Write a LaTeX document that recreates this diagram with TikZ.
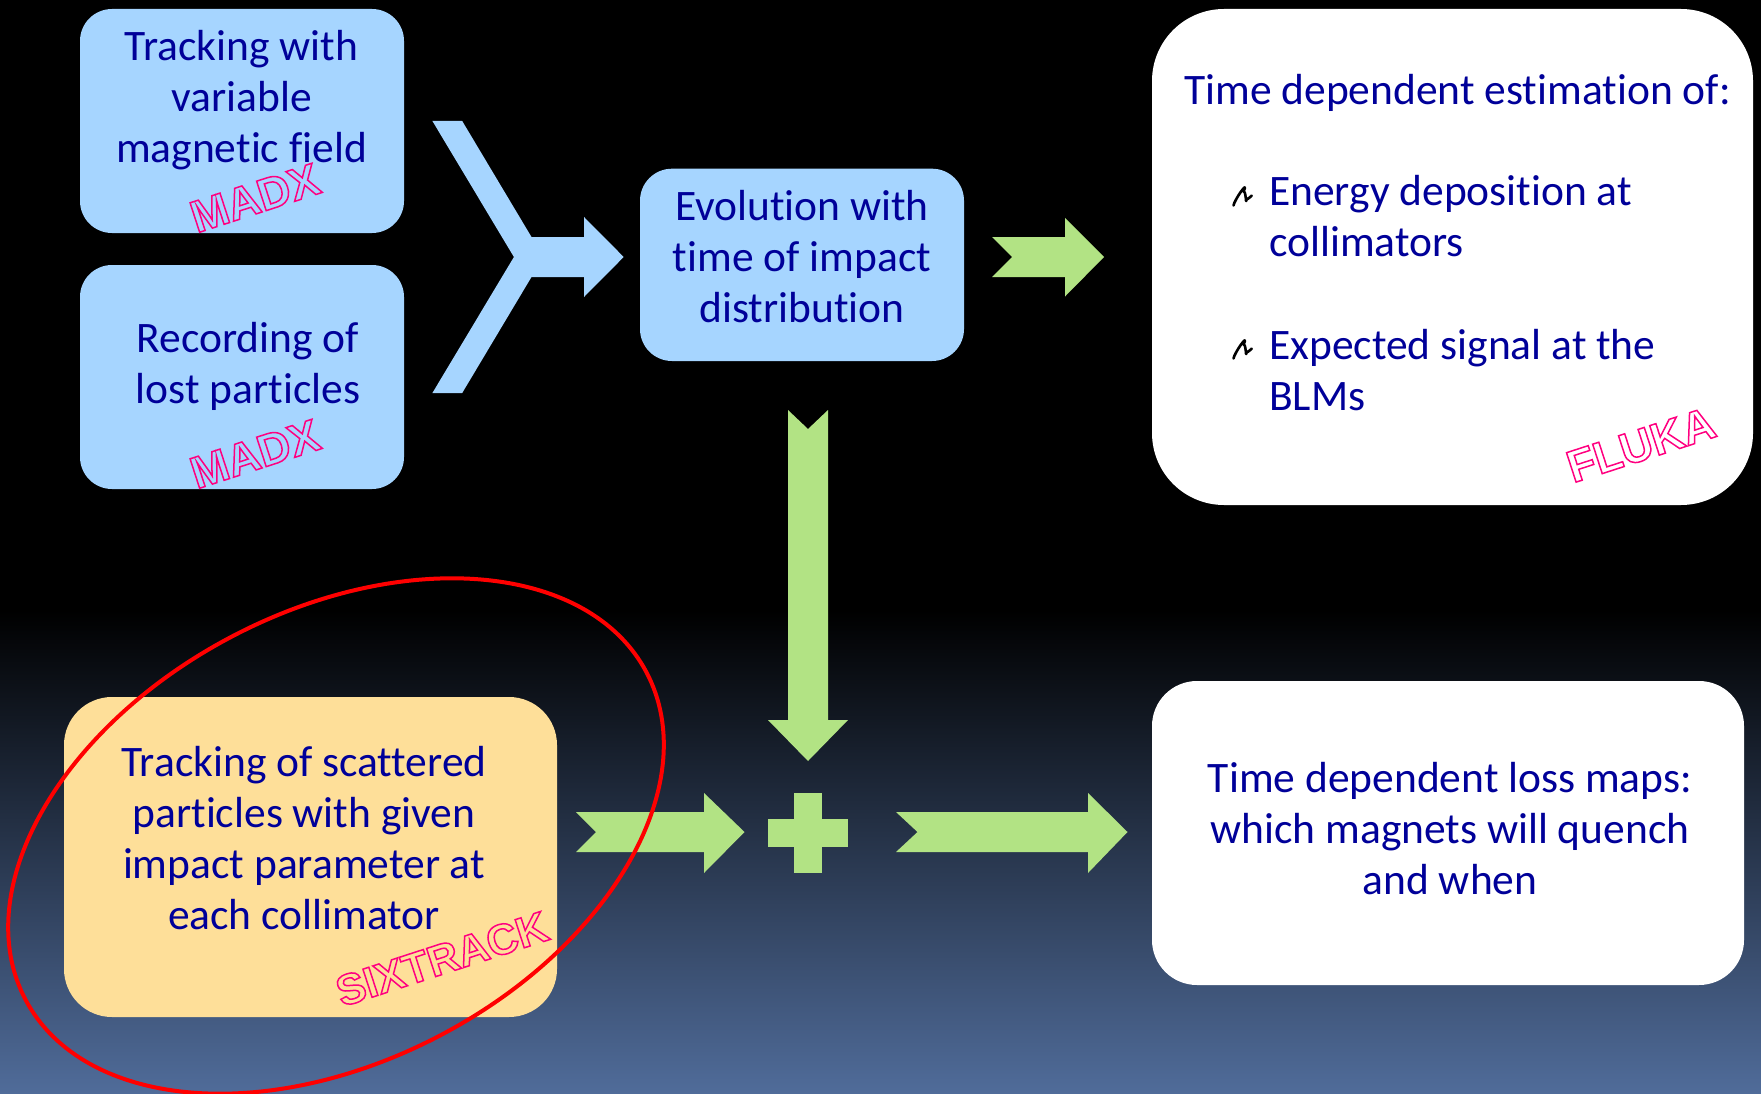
\documentclass[tikz,border=0pt]{standalone}
\usepackage{fontspec}
\setmainfont{Carlito}[Ligatures={NoCommon}]
\newfontfamily\outfont{Liberation Sans}[BoldFont={Liberation Sans Bold}]
\definecolor{bluebox}{HTML}{A6D5FF}
\definecolor{greenarrow}{HTML}{B2E384}
\definecolor{yellowbox}{HTML}{FEDF99}
\definecolor{txtblue}{HTML}{000099}
\definecolor{pinkout}{HTML}{FF0080}
\definecolor{bgbottom}{HTML}{506C9A}
\tikzset{
  x=1pt,y=-1pt,
  box/.style={inner sep=0pt,outer sep=0pt,rounded corners=#1},
  lab/.style={anchor=base,inner sep=0pt,align=center,text=txtblue,font=\fontsize{43.5}{51}\selectfont},
  labl/.style={anchor=base west,inner sep=0pt,align=left,text=txtblue,font=\fontsize{43.5}{51}\selectfont},
  code/.style={inner sep=0pt,rotate=18,font=\fontsize{45}{45}\outfont\bfseries},
  codesmall/.style={inner sep=0pt,rotate=18,font=\fontsize{43}{43}\outfont\bfseries},
  blockarrow/.style={fill=greenarrow,draw=none},
  oval/.style={draw=red,line width=4pt}
}
\newcommand{\outl}[1]{\special{pdf:code 1 Tr 1.5 w 1 0 0.5 RG}#1\special{pdf:code 0 Tr}}
\newcommand{\squiggle}[1]{\draw[black,line width=2.6pt,line cap=round,line join=round] (#1) ++(1.5,15.5) .. controls +(1,-6) and +(6,-13) .. ++(10,-14) .. controls +(3,0) and +(-1,6) .. ++(3,8) .. controls +(1,0) and +(3,-2) .. ++(4.5,-3.5);}
\begin{document}
\begin{tikzpicture}
\useasboundingbox (0,0) rectangle (1761,1094);
\fill[black] (0,0) rectangle (1761,610);
\shade[top color=black,bottom color=bgbottom,shading angle=0] (0,610) rectangle (1761,1094);
% boxes
\path[fill=bluebox,box=32] (80,9) rectangle (404,233);
\path[fill=bluebox,box=32] (80,265) rectangle (404,489);
\path[fill=bluebox,box=32] (640,168.7) rectangle (964,361);
\path[fill=white,box=72] (1152,9) rectangle (1753,505);
\path[fill=white,box=45] (1152,681) rectangle (1744,985);
\path[fill=yellowbox,box=48] (64,697) rectangle (557,1017);
% block arrows
\fill[bluebox] (432.4,121) -- (462.2,121) -- (531.5,237) -- (584,237) -- (584,217) -- (623.7,257) -- (584,297) -- (584,277) -- (531.5,277) -- (462.2,393) -- (432.4,393) -- (513.9,257) -- cycle;
\fill[blockarrow] (992,237) -- (1065,237) -- (1065,218) -- (1104,257) -- (1065,296.5) -- (1065,277) -- (992,277) -- (1012,257) -- cycle;
\fill[blockarrow] (788,410) -- (808,429) -- (828,410) -- (828,720) -- (848,720) -- (808,761) -- (768,720) -- (788,720) -- cycle;
\fill[blockarrow] (794,793) rectangle (822,873);
\fill[blockarrow] (768,819) rectangle (848,847);
\fill[blockarrow] (576,812) -- (704,812) -- (704,793) -- (744.5,832) -- (704,873) -- (704,852) -- (576,852) -- (596,832) -- cycle;
\fill[blockarrow] (896,812) -- (1088,812) -- (1088,793) -- (1127.5,832) -- (1088,873) -- (1088,852) -- (896,852) -- (917.5,832) -- cycle;
% text
\node[lab] (t1) at (241.5,162.5) {Tracking with\\variable\\magnetic field};
\node[lab] (t2) at (248,403.5) {Recording of\\lost particles};
\node[lab] (t3) at (802,322) {Evolution with\\time of impact\\distribution};
\node[lab] (t4) at (304,929.5) {Tracking of scattered\\particles with given\\impact parameter at\\each collimator};
\node[lab] (t5) at (1450,894.5) {Time dependent loss maps:\\which magnets will quench\\and when};
\node[labl] (t6) at (1184,105) {Time dependent estimation of:};
\node[labl] (t7) at (1269,256.5) {Energy deposition at\\collimators};
\node[labl] (t8) at (1269,410.5) {Expected signal at the\\BLMs};
\squiggle{1232,190}
\squiggle{1232,343}
% codes
\begin{scope}[text=pinkout]
\node[code] (m1) at (255,198) {\outl{MADX}};
\node[code] (m2) at (255,454) {\outl{MADX}};
\node[code] (f1) at (1641,445) {\outl{FLUKA}};
\node[codesmall] (s1) at (442,959) {\outl{SIXTRACK}};
\end{scope}
\draw[oval] (336,836) circle[x radius=351,y radius=225,rotate=27.8];
\end{tikzpicture}
\end{document}
